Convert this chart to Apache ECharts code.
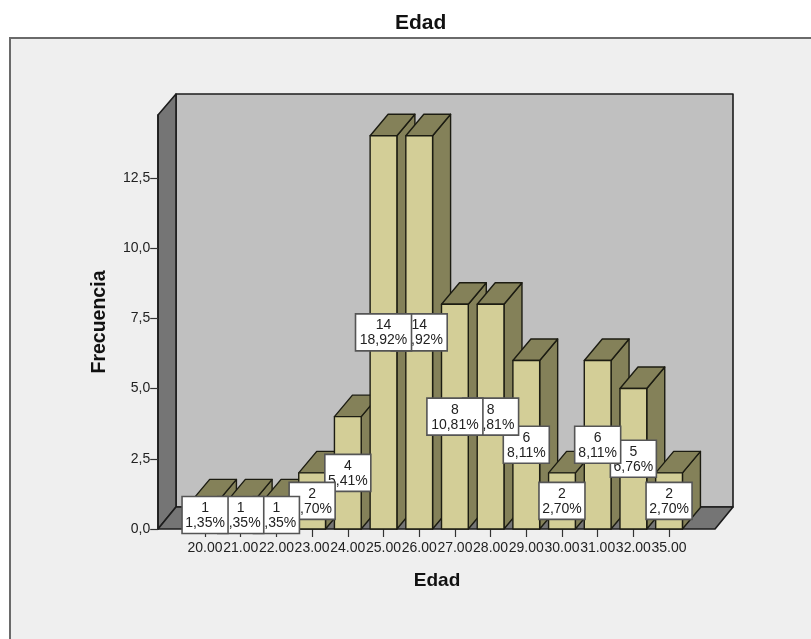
<!DOCTYPE html>
<html><head><meta charset="utf-8">
<style>html,body{margin:0;padding:0;background:#fff}#c{width:811px;height:639px}</style>
<script src="https://cdn.jsdelivr.net/npm/echarts@6/dist/echarts.min.js"></script>
</head><body><div id="c"></div>
<script>
const categories = ['20.00','21.00','22.00','23.00','24.00','25.00','26.00','27.00','28.00','29.00','30.00','31.00','32.00','35.00'];
const counts = [1,1,1,2,4,14,14,8,8,6,2,6,5,2];
const percents = ['1,35%','1,35%','1,35%','2,70%','5,41%','18,92%','18,92%','10,81%','10,81%','8,11%','2,70%','8,11%','6,76%','2,70%'];
const yTicks = {min:0, max:14.74, interval:2.5};

const FONT = '"Liberation Sans", Arial, sans-serif';
const DX = 18, DY = 21.5, BAR = 0.75;
const FRONT = '#D3CE97', SIDE = '#848159', EDGE = '#1c1c12';
const chart = echarts.init(document.getElementById('c'), null, {renderer:'canvas'});

function renderBar(params, api){
  const i = api.value(0), v = api.value(1);
  const top = api.coord([i, v]), base = api.coord([i, 0]);
  const hw = api.size([1,0])[0]*BAR/2;
  const l = top[0]-hw, r = top[0]+hw, t = top[1], b = base[1];
  const st = c => ({fill:c, stroke:EDGE, lineWidth:1.4, lineJoin:'round'});
  return {type:'group', children:[
    {type:'polygon', shape:{points:[[r,b],[r+DX,b-DY],[r+DX,t-DY],[r,t]]}, style:st(SIDE)},
    {type:'polygon', shape:{points:[[l,t],[r,t],[r+DX,t-DY],[l+DX,t-DY]]}, style:st(SIDE)},
    {type:'rect', shape:{x:l,y:t,width:r-l,height:b-t}, style:st(FRONT)}
  ]};
}
function renderLabel(params, api){
  const i = api.value(0), v = api.value(1);
  const p = api.coord([i, v/2]);
  const W = percents[i].length > 5 ? 56 : 46, H = 37;
  const z = (categories.length - i)*2;
  return {type:'group', children:[
    {type:'rect', z2:z, shape:{x:p[0]-W/2,y:p[1]-H/2,width:W,height:H},
      style:{fill:'#fff', stroke:'#555', lineWidth:1.6}},
    {type:'text', z2:z+1, x:p[0], y:p[1]+0.5,
      style:{text:counts[i]+'\n'+percents[i], fill:'#222', font:'14px '+FONT, align:'center', verticalAlign:'middle', lineHeight:15}}
  ]};
}
const data = counts.map((v,i)=>[i,v]);
const wall = {stroke:'#1c1c1c', lineWidth:1.6, lineJoin:'round'};
chart.setOption({
  animation:false,
  backgroundColor:'#fff',
  title:{text:'Edad', left:390, top:8,
    textStyle:{fontFamily:FONT,fontWeight:'bold',fontSize:21,color:'#111'}},
  graphic:[
    {type:'rect', z:-10, shape:{x:10,y:38,width:830,height:640}, style:{fill:'#EFEFEF',stroke:'#6a6a6a',lineWidth:2}},
    {type:'rect', z:-9, shape:{x:176,y:94,width:557,height:413}, style:Object.assign({fill:'#C0C0C0'},wall)},
    {type:'polygon', z:-9, shape:{points:[[158,115],[176,94],[176,507],[158,529]]}, style:Object.assign({fill:'#757575'},wall)},
    {type:'polygon', z:-9, shape:{points:[[158,529],[715,529],[733,507],[176,507]]}, style:Object.assign({fill:'#757575'},wall)}
  ],
  grid:{left:187.2, top:115, width:499.7, height:414},
  xAxis:{type:'category', data:categories, name:'Edad', nameLocation:'middle', nameGap:42,
    nameTextStyle:{fontFamily:FONT,fontWeight:'bold',fontSize:19,color:'#111'},
    axisLine:{show:false},
    axisTick:{show:true,alignWithLabel:true,length:8,lineStyle:{color:'#333',width:1.2}},
    axisLabel:{interval:0,hideOverlap:false,margin:12,fontFamily:FONT,fontSize:14,color:'#222'},
    splitLine:{show:false}},
  yAxis:{type:'value', min:yTicks.min, max:yTicks.max, interval:yTicks.interval, offset:29,
    name:'Frecuencia', nameLocation:'middle', nameGap:49, nameRotate:90,
    nameTextStyle:{fontFamily:FONT,fontWeight:'bold',fontSize:19.5,color:'#111'},
    axisLine:{show:true,lineStyle:{color:'#1c1c1c',width:1.6}},
    axisTick:{show:true,length:8,lineStyle:{color:'#333',width:1.2}},
    axisLabel:{margin:8,fontFamily:FONT,fontSize:14,color:'#222',showMaxLabel:false,
      formatter:v=>v.toFixed(1).replace('.',',')},
    splitLine:{show:false}},
  series:[
    {type:'custom', z:3, coordinateSystem:'cartesian2d', renderItem:renderBar, data:data, encode:{x:0,y:1}, silent:true},
    {type:'custom', z:4, coordinateSystem:'cartesian2d', renderItem:renderLabel, data:data, encode:{x:0,y:1}, silent:true, clip:false}
  ]
});
</script></body></html>
